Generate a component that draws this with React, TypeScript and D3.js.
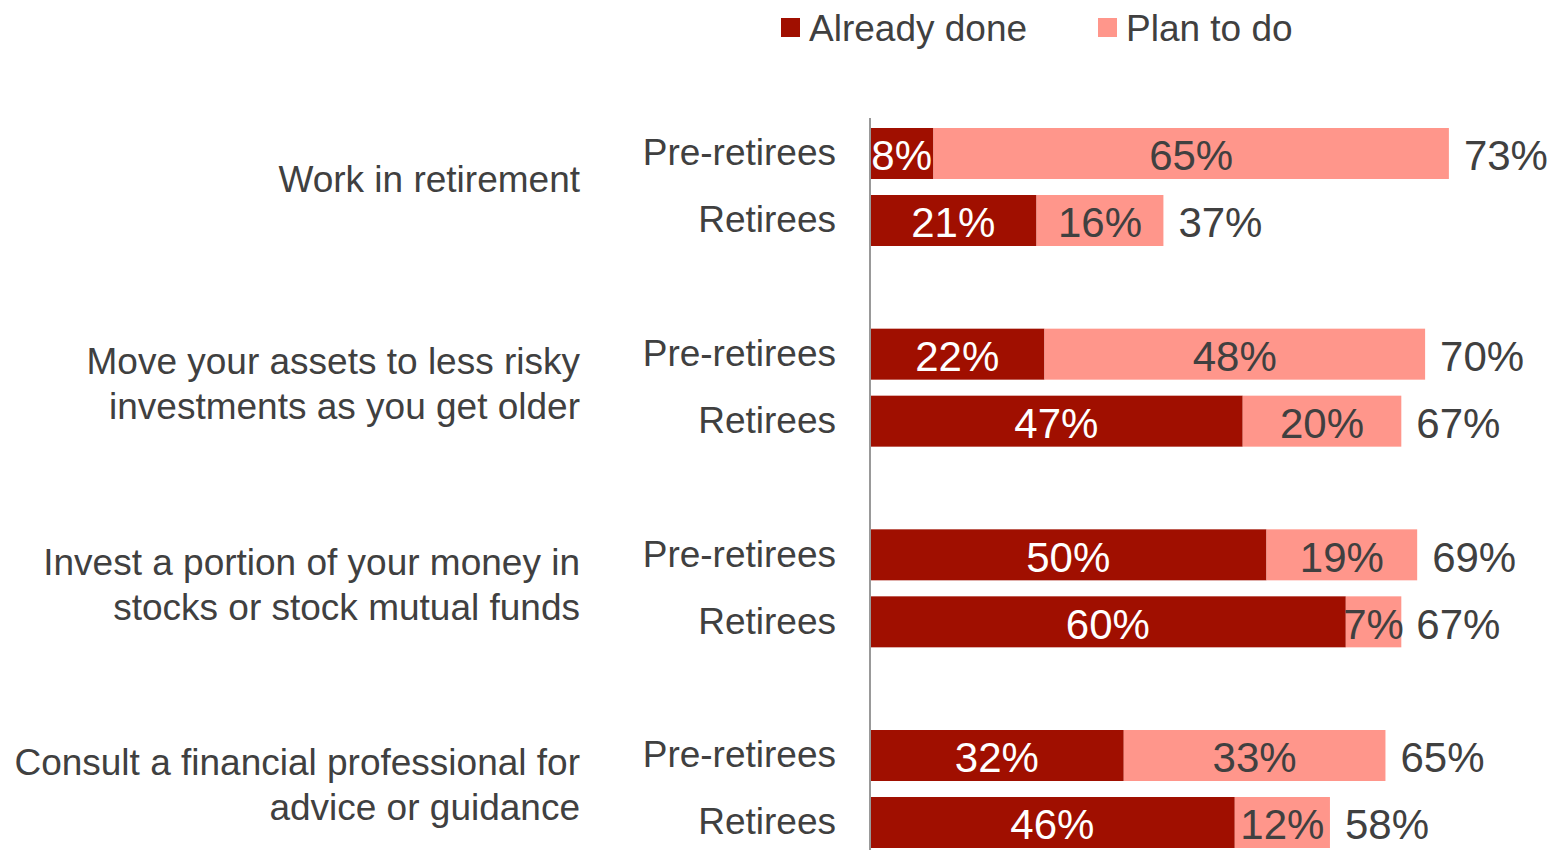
import React, { useEffect, useRef } from 'react';
import * as d3 from 'd3';

const groups = [
    ['Work in retirement'],
    ['Move your assets to less risky', 'investments as you get older'],
    ['Invest a portion of your money in', 'stocks or stock mutual funds'],
    ['Consult a financial professional for', 'advice or guidance'],
];
const segments = ['Pre-retirees', 'Retirees'];
const alreadyDone = [8, 21, 22, 47, 50, 60, 32, 46];
const planToDo = [65, 16, 48, 20, 19, 7, 33, 12];
const seriesNames = ['Already done', 'Plan to do'];

const DARK = '#A00F00';
const LIGHT = '#FF968B';
const TEXT = '#404040';
const FONT = '"Liberation Sans", Arial, sans-serif';

const App: React.FC = () => {
    const svgRef = useRef<SVGSVGElement>(null);
    const width = 1554;
    const height = 850;

    useEffect(() => {
        if (!svgRef.current) return;
        const svg = d3.select(svgRef.current);
        svg.selectAll('*').remove();

        const x = d3.scaleLinear().domain([0, 100]).range([870, 1663]);
        const yGroup = d3.scaleBand<number>()
            .domain(d3.range(groups.length))
            .range([128, 848])
            .paddingInner(0.412)
            .paddingOuter(0);
        const ySeg = d3.scaleBand<string>()
            .domain(segments)
            .range([0, yGroup.bandwidth()])
            .paddingInner(0.239)
            .paddingOuter(0);

        const rows = groups.flatMap((g, gi) => segments.map((s, si) => {
            const i = gi * segments.length + si;
            return {
                group: gi,
                seg: s,
                done: alreadyDone[i],
                plan: planToDo[i],
                y: (yGroup(gi) as number) + (ySeg(s) as number),
            };
        }));
        const bh = ySeg.bandwidth();

        // group labels
        groups.forEach((lines, gi) => {
            const cy = (yGroup(gi) as number) + yGroup.bandwidth() / 2 - (lines.length === 1 ? 8 : 4);
            const lh = 45;
            const t = svg.append('text')
                .attr('text-anchor', 'end')
                .attr('font-family', FONT)
                .attr('font-size', 37)
                .attr('fill', TEXT);
            lines.forEach((line, li) => {
                t.append('tspan')
                    .attr('x', 580)
                    .attr('y', cy + (li - (lines.length - 1) / 2) * lh)
                    .attr('dy', '0.35em')
                    .text(line);
            });
        });

        // segment labels
        svg.selectAll('text.seg')
            .data(rows)
            .enter()
            .append('text')
            .attr('class', 'seg')
            .attr('x', 836)
            .attr('y', d => d.y + bh / 2 - 1)
            .attr('dy', '0.35em')
            .attr('text-anchor', 'end')
            .attr('font-family', FONT)
            .attr('font-size', 37)
            .attr('fill', TEXT)
            .text(d => d.seg);

        // bars
        svg.selectAll('rect.done')
            .data(rows)
            .enter()
            .append('rect')
            .attr('x', x(0))
            .attr('y', d => d.y)
            .attr('width', d => x(d.done) - x(0))
            .attr('height', bh)
            .attr('fill', DARK);

        svg.selectAll('rect.plan')
            .data(rows)
            .enter()
            .append('rect')
            .attr('x', d => x(d.done))
            .attr('y', d => d.y)
            .attr('width', d => x(d.done + d.plan) - x(d.done))
            .attr('height', bh)
            .attr('fill', LIGHT);

        // axis line
        svg.append('line')
            .attr('x1', x(0))
            .attr('x2', x(0))
            .attr('y1', 118)
            .attr('y2', height)
            .attr('stroke', '#999')
            .attr('stroke-width', 2);

        const labelAttrs = (sel: any) => sel
            .attr('dy', '0.35em')
            .attr('font-family', FONT)
            .attr('font-size', 42);

        svg.selectAll('text.doneLbl')
            .data(rows)
            .enter()
            .append('text')
            .attr('x', d => (x(0) + x(d.done)) / 2)
            .attr('y', d => d.y + bh / 2 + 2)
            .attr('text-anchor', 'middle')
            .attr('fill', '#fff')
            .call(labelAttrs)
            .text(d => `${d.done}%`);

        svg.selectAll('text.planLbl')
            .data(rows)
            .enter()
            .append('text')
            .attr('x', d => (x(d.done) + x(d.done + d.plan)) / 2)
            .attr('y', d => d.y + bh / 2 + 2)
            .attr('text-anchor', 'middle')
            .attr('fill', TEXT)
            .call(labelAttrs)
            .text(d => `${d.plan}%`);

        svg.selectAll('text.totalLbl')
            .data(rows)
            .enter()
            .append('text')
            .attr('x', d => x(d.done + d.plan) + 15)
            .attr('y', d => d.y + bh / 2 + 2)
            .attr('text-anchor', 'start')
            .attr('fill', TEXT)
            .call(labelAttrs)
            .text(d => `${d.done + d.plan}%`);

        // legend
        const legendX = [781, 1098];
        seriesNames.forEach((name, i) => {
            svg.append('rect')
                .attr('x', legendX[i])
                .attr('y', 18)
                .attr('width', 19)
                .attr('height', 19)
                .attr('fill', i === 0 ? DARK : LIGHT);
            svg.append('text')
                .attr('x', legendX[i] + 28)
                .attr('y', 28)
                .attr('dy', '0.35em')
                .attr('font-family', FONT)
                .attr('font-size', 37)
                .attr('fill', TEXT)
                .text(name);
        });
    }, []);

    return (
        <svg
            ref={svgRef}
            width={width}
            height={height}
            style={{ position: 'absolute', left: 0, top: 0, background: '#fff' }}
        />
    );
};

export default App;
